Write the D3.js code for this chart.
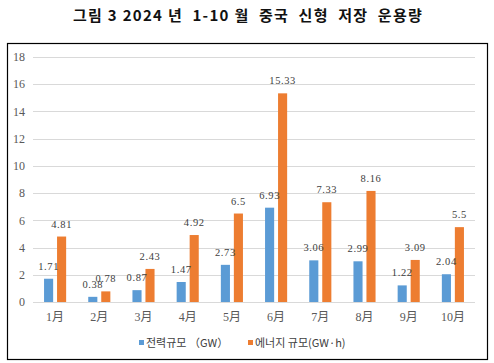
<!DOCTYPE html>
<html>
<head>
<meta charset="utf-8">
<script src="https://cdn.jsdelivr.net/npm/d3@7"></script>
<style>
  body { margin: 0; background: #fff; }
</style>
</head>
<body>
<div id="chart"></div>
<script>
const months = ["1月", "2月", "3月", "4月", "5月", "6月", "7月", "8月", "9月", "10月"];
const powerGW = [1.71, 0.38, 0.87, 1.47, 2.73, 6.93, 3.06, 2.99, 1.22, 2.04];
const energyGWh = [4.81, 0.78, 2.43, 4.92, 6.5, 15.33, 7.33, 8.16, 3.09, 5.5];
const yTicks = [0, 2, 4, 6, 8, 10, 12, 14, 16, 18];
const seriesNames = ["전력규모 （GW）", "에너지 규모(GW·h)"];

const width = 494,
  height = 363;
const colors = ["#5B9BD5", "#ED7D31"];
const serif = "'Liberation Serif', 'DejaVu Serif', 'Noto Sans CJK SC', serif";

const svg = d3.select("#chart").append("svg").attr("width", width).attr("height", height);

// title (double spaces kept)
svg
  .append("text")
  .attr("x", 248)
  .attr("y", 21)
  .attr("text-anchor", "middle")
  .attr("font-family", "'Noto Sans CJK KR', 'Noto Sans', sans-serif")
  .attr("font-size", 15)
  .attr("font-weight", "bold")
  .attr("letter-spacing", 1.3)
  .attr("fill", "#111")
  .style("white-space", "pre")
  .text("그림 3 2024 년  1-10 월  중국  신형  저장  운용량");

// frame
svg
  .append("rect")
  .attr("x", 7.5)
  .attr("y", 43.5)
  .attr("width", 480)
  .attr("height", 316)
  .attr("fill", "none")
  .attr("stroke", "#000")
  .attr("stroke-width", 1.2);

const x0 = d3.scaleBand().domain(months).range([33, 475]).paddingInner(0.5).paddingOuter(0.25);
const x1 = d3.scaleBand().domain([0, 1]).range([0, x0.bandwidth()]).paddingInner(0.3);
const y = d3.scaleLinear().domain([0, 18]).range([302, 57]);

// gridlines
svg
  .append("g")
  .selectAll("line")
  .data(yTicks)
  .join("line")
  .attr("x1", 33)
  .attr("x2", 475)
  .attr("y1", (d) => Math.round(y(d)) + 0.5)
  .attr("y2", (d) => Math.round(y(d)) + 0.5)
  .attr("stroke", "#D9D9D9")
  .attr("stroke-width", 1);

// y tick labels
svg
  .append("g")
  .selectAll("text")
  .data(yTicks)
  .join("text")
  .attr("x", 25)
  .attr("y", (d) => y(d))
  .attr("dy", "0.35em")
  .attr("text-anchor", "end")
  .attr("font-family", serif)
  .attr("font-size", 12)
  .attr("fill", "#595959")
  .text((d) => d);

const rows = months.map((m, i) => ({ m, vals: [powerGW[i], energyGWh[i]] }));

const groups = svg
  .append("g")
  .selectAll("g")
  .data(rows)
  .join("g")
  .attr("transform", (d) => `translate(${x0(d.m)},0)`);

groups
  .selectAll("rect")
  .data((d) => d.vals.map((v, k) => ({ v, k })))
  .join("rect")
  .attr("x", (d) => x1(d.k))
  .attr("width", x1.bandwidth())
  .attr("y", (d) => y(d.v))
  .attr("height", (d) => y(0) - y(d.v))
  .attr("fill", (d) => colors[d.k]);

// data labels
groups
  .selectAll("text")
  .data((d) => d.vals.map((v, k) => ({ v, k })))
  .join("text")
  .attr("x", (d) => x1(d.k) + x1.bandwidth() / 2)
  .attr("y", (d) => y(d.v) - 9)
  .attr("text-anchor", "middle")
  .attr("font-family", serif)
  .attr("font-size", 10.5)
  .attr("letter-spacing", 0.6)
  .attr("fill", "#404040")
  .text((d) => String(d.v));

// x labels
svg
  .append("g")
  .selectAll("text")
  .data(months)
  .join("text")
  .attr("x", (d) => x0(d) + x0.bandwidth() / 2)
  .attr("y", 321)
  .attr("text-anchor", "middle")
  .attr("font-family", serif)
  .attr("font-size", 12)
  .attr("fill", "#595959")
  .text((d) => d);

// legend
const legendX = [139, 248];
const legend = svg
  .append("g")
  .selectAll("g")
  .data(seriesNames)
  .join("g")
  .attr("transform", (d, i) => `translate(${legendX[i]},343)`);
legend
  .append("rect")
  .attr("x", 0)
  .attr("y", -3)
  .attr("width", 5)
  .attr("height", 5)
  .attr("fill", (d, i) => colors[i]);
legend
  .append("text")
  .attr("x", 7)
  .attr("y", 0)
  .attr("dy", "0.35em")
  .attr("font-family", "'Noto Sans CJK KR', sans-serif")
  .attr("font-size", 11)
  .attr("fill", "#404040")
  .text((d) => d);
</script>
</body>
</html>
